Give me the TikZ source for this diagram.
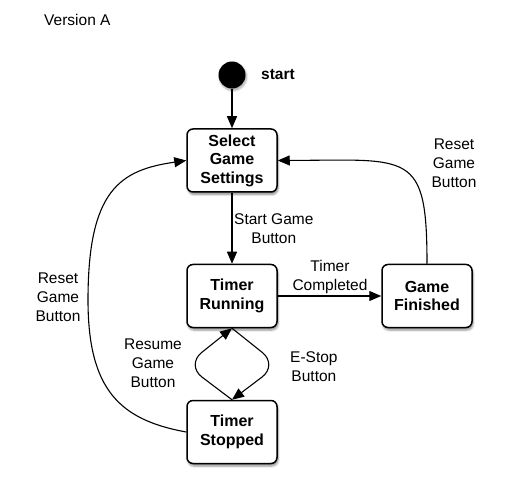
\documentclass[tikz,border=0pt]{standalone}
\usepackage{fontspec}
\setmainfont{Liberation Sans}
\usetikzlibrary{arrows.meta,shadows.blur}
\begin{document}
\begin{tikzpicture}[x=1pt,y=-1pt,
  state/.style={draw, line width=1.5pt, rounded corners=6pt, fill=white,
    minimum width=90pt, minimum height=63pt, inner sep=0pt, align=center,
    font=\fontsize{16}{18.5}\selectfont\bfseries,
    blur shadow={shadow xshift=1pt, shadow yshift=-2.5pt, shadow blur steps=6, shadow opacity=45}},
  trans/.style={line width=1.1pt, -{Triangle[length=12pt,width=10pt]}},
  lbl/.style={align=center, inner sep=0pt, font=\fontsize{15.5}{19}\selectfont}]
\useasboundingbox (0,0) rectangle (509,497);

\node[lbl, anchor=west] (ver) at (44,20) {Version A};

\node[circle, fill=black, minimum size=27pt, inner sep=0pt,
  blur shadow={shadow xshift=1pt, shadow yshift=-2pt, shadow blur steps=5, shadow opacity=35}] (start) at (232,75) {};
\node[lbl, font=\fontsize{15.5}{19}\selectfont\bfseries] (startlbl) at (278,75) {start};

\node[state] (sel) at (232,160.5) {Select\\Game\\Settings};
\node[state] (tr) at (232,296) {Timer\\Running};
\node[state] (gf) at (427,296) {Game\\Finished};
\node[state] (ts) at (232,432) {Timer\\Stopped};

\draw[trans] (start) -- (sel);
\draw[trans] (sel) -- (tr);
\draw[trans] (tr) -- (gf);
\draw[trans] (gf.north) .. controls (427,150) and (410,160) .. (sel.east);
\draw[trans] (ts.west) .. controls (120,420) and (88,390) .. (88,300)
  .. controls (88,190) and (120,170) .. (sel.west);
\draw[trans, rounded corners=20pt] (tr.south) -- (278,365) -- (ts.north);
\draw[trans, rounded corners=20pt] (ts.north) -- (186,365) -- (tr.south);

\node[lbl, anchor=west] (l1) at (234,228.5) {Start Game\\Button};
\node[lbl] (l2) at (330,276.5) {Timer\\Completed};
\node[lbl] (l3) at (454,163.5) {Reset\\Game\\Button};
\node[lbl] (l4) at (58,297) {Reset\\Game\\Button};
\node[lbl] (l5) at (153,363.5) {Resume\\Game\\Button};
\node[lbl, anchor=west] (l6) at (290,366.5) {E-Stop\\Button};
\end{tikzpicture}
\end{document}
